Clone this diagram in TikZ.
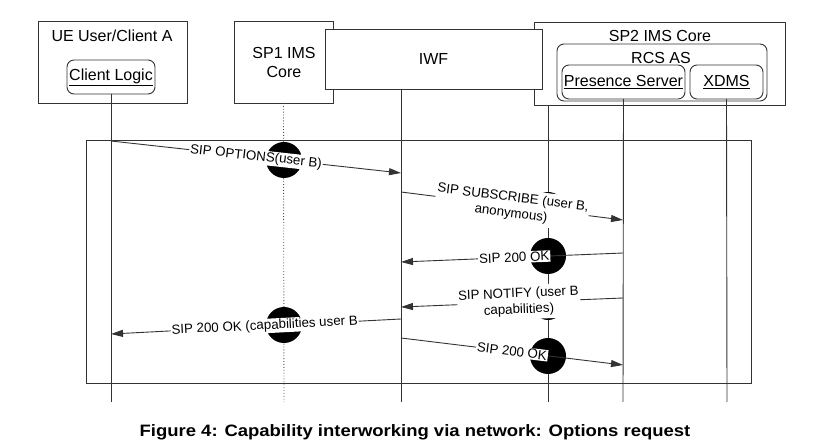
\documentclass[tikz,border=0pt]{standalone}
\usepackage{fontspec}
\setmainfont{Liberation Sans}
\usetikzlibrary{arrows.meta}
\begin{document}
\begin{tikzpicture}[x=1pt,y=-1pt,
  ln/.style={draw=black!80, line width=0.9pt},
  box/.style={ln, fill=white, inner sep=0pt, outer sep=0pt, anchor=north west},
  rbox/.style={box, rounded corners=7pt},
  ttl/.style={font=\fontsize{16}{19}\selectfont, align=center, inner sep=0pt},
  dotln/.style={draw=black!70, line width=0.9pt, dotted},
  msg/.style={ln, -{Triangle[length=12pt,width=7pt]}},
  lbl/.style={fill=white, inner sep=1pt, sloped, font=\fontsize{13.3}{16}\selectfont, align=center},
  lbltwo/.style={lbl, inner ysep=3pt},
  jump/.style={fill=black, circle, minimum size=36pt, inner sep=0pt}]
\useasboundingbox (0,0) rectangle (836,446);
% boxes
\node[box, minimum width=149pt, minimum height=82pt] (ue) at (38,21) {};
\node[ttl] (uet) at (112,36) {UE User/Client A};
\node[rbox, minimum width=88pt, minimum height=34pt, ttl] (cl) at (67,60) {\underline{Client Logic}};
\node[box, minimum width=99pt, minimum height=82pt] (sp1) at (234,21) {};
\node[ttl] (sp1t) at (284,62) {SP1 IMS\\Core};
\node[box, minimum width=251pt, minimum height=83pt] (sp2) at (534,22) {};
\node[ttl] (sp2t) at (660,36) {SP2 IMS Core};
\node[rbox, minimum width=210pt, minimum height=57pt] (rcs) at (557,44) {};
\node[ttl] (rcst) at (661,58) {RCS AS};
\node[rbox, minimum width=123pt, minimum height=34pt, ttl] (ps) at (562,65) {\underline{Presence Server}};
\node[rbox, minimum width=73pt, minimum height=34pt, ttl] (xd) at (690,65) {\underline{XDMS}};
\node[box, minimum width=217pt, minimum height=60pt, ttl] (iwf) at (325,29) {IWF};
% lifeline ends
\coordinate (ueB) at (111,402);
\coordinate (sp1B) at (284,402);
\coordinate (iwfB) at (401,402);
\coordinate (sp2B) at (548,402);
\coordinate (psB) at (623,402);
\coordinate (xdB) at (727,402);
\draw[ln] (cl.south) -- (ueB);
\draw[dotln] (sp1.south) -- (sp1B);
\draw[ln] (iwf.south -| iwfB) -- (iwfB);
\draw[ln] (sp2.south -| sp2B) -- (sp2B);
\draw[ln] (ps.south) -- (psB);
\draw[ln] (xd.south) -- (xdB);
% frame
\node[ln, anchor=north west, minimum width=665pt, minimum height=243pt, inner sep=0pt] (frame) at (86,140) {};
% jumps
\node[jump] (j1) at (284,160) {};
\node[jump, minimum size=34pt] (j2) at (548,209) {};
\node[jump] (j3) at (548,256) {};
\node[jump, minimum size=32pt] (j4) at (548,304) {};
\node[jump] (j5) at (284,325) {};
\node[jump] (j6) at (548,356) {};
% message endpoints
\coordinate (m1s) at (111,141); \coordinate (m1e) at (401,173);
\coordinate (m2s) at (401,192); \coordinate (m2e) at (623,220);
\coordinate (m3s) at (623,253); \coordinate (m3e) at (401,262);
\coordinate (m4s) at (623,298); \coordinate (m4e) at (401,307);
\coordinate (m5s) at (401,319); \coordinate (m5e) at (111,334);
\coordinate (m6s) at (401,338); \coordinate (m6e) at (623,365);
\draw[msg] (m1s) -- node[lbl, pos=0.5] (l1) {SIP OPTIONS(user B)} (m1e);
\draw[msg] (m2s) -- node[lbltwo, pos=0.5] (l2) {SIP SUBSCRIBE (user B,\\anonymous)} (m2e);
\draw[msg] (m3s) -- node[lbl, pos=0.49] (l3) {SIP 200 OK} (m3e);
\draw[msg] (m4s) -- node[lbltwo, pos=0.47] (l4) {SIP NOTIFY (user B\\capabilities)} (m4e);
\draw[msg] (m5s) -- node[lbl, pos=0.47] (l5) {SIP 200 OK (capabilities user B} (m5e);
\draw[msg] (m6s) -- node[lbl, pos=0.5] (l6) {SIP 200 OK} (m6e);
% caption
\node[font=\bfseries\fontsize{16.5}{19}\selectfont, inner sep=0pt] (cap) at (415,432) {\scalebox{1.12}[1]{Figure 4: Capability interworking via network: Options request}};
\end{tikzpicture}
\end{document}
